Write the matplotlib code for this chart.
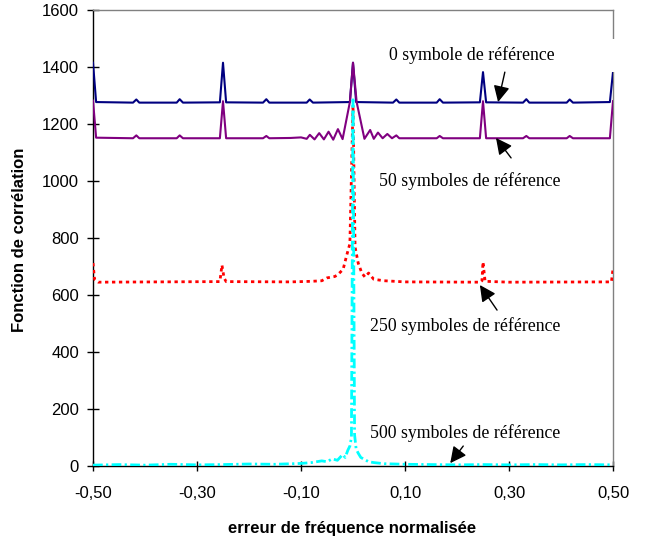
import matplotlib
matplotlib.use("Agg")
from matplotlib import pyplot as plt
from matplotlib.patches import Rectangle

# Valeurs (erreur de frequence normalisee / correlation)
x_0sym = [-0.5, -0.494, -0.423, -0.4167, -0.411, -0.339, -0.3333, -0.327, -0.256, -0.25, -0.244,
          -0.173, -0.1667, -0.161, -0.089, -0.0833, -0.077, -0.006, 0.0, 0.006, 0.077, 0.0833,
          0.089, 0.161, 0.1667, 0.173, 0.244, 0.25, 0.256, 0.327, 0.3333, 0.339, 0.411, 0.4167,
          0.423, 0.494, 0.5]
y_0sym = [1415, 1277, 1275, 1286, 1275, 1275, 1287, 1275, 1276, 1415, 1276,
          1275, 1287, 1275, 1275, 1286, 1275, 1277, 1415, 1277, 1275, 1286,
          1275, 1275, 1287, 1275, 1276, 1382, 1276, 1275, 1287, 1275, 1275, 1286,
          1275, 1277, 1382]

x_50sym = [-0.5, -0.494, -0.423, -0.4167, -0.411, -0.339, -0.3333, -0.327, -0.256, -0.25, -0.244,
           -0.173, -0.1667, -0.161, -0.12, -0.1, -0.089, -0.083, -0.074, -0.065, -0.056, -0.047,
           -0.038, -0.029, -0.02, -0.006, 0.0, 0.007, 0.022, 0.033, 0.04, 0.048, 0.057, 0.066,
           0.075, 0.0833, 0.089, 0.161, 0.1667, 0.173, 0.244, 0.25, 0.256, 0.327, 0.3333, 0.339,
           0.411, 0.4167, 0.423, 0.494, 0.5]
y_50sym = [1282, 1152, 1150, 1160, 1150, 1150, 1160, 1150, 1150, 1280, 1150,
           1150, 1158, 1150, 1151, 1153, 1148, 1162, 1146, 1168, 1146, 1173,
           1145, 1182, 1147, 1277, 1415, 1277, 1148, 1179, 1148, 1170, 1150, 1165,
           1150, 1160, 1150, 1150, 1158, 1150, 1150, 1280, 1150, 1150, 1158, 1150,
           1150, 1158, 1150, 1150, 1280]

x_250sym = [-0.5, -0.497, -0.49, -0.256, -0.252, -0.248, -0.244, -0.12, -0.08, -0.06, -0.05,
            -0.035, -0.03, -0.019, -0.012, -0.006, 0.0, 0.004, 0.01, 0.017, 0.023, 0.03, 0.04,
            0.06, 0.1, 0.244, 0.248, 0.25, 0.254, 0.3, 0.497, 0.5]
y_250sym = [712, 655, 645, 647, 705, 660, 647, 646, 648, 650, 660,
            665, 670, 690, 740, 780, 1265, 768, 712, 677, 663, 677, 655,
            650, 646, 645, 650, 716, 648, 645, 646, 692]

x_500sym = [-0.5, -0.45, -0.4, -0.35, -0.3, -0.25, -0.2, -0.15, -0.1, -0.08, -0.06, -0.05,
            -0.04, -0.03, -0.02, -0.015, -0.01, -0.006, -0.003, 0.0, 0.003, 0.006, 0.01, 0.015,
            0.02, 0.03, 0.04, 0.06, 0.1, 0.15, 0.2, 0.25, 0.3, 0.35, 0.4, 0.45, 0.5]
y_500sym = [3, 5, 3, 6, 4, 5, 7, 6, 9, 12, 18, 15,
            25, 20, 40, 30, 55, 70, 100, 1285, 110, 60, 45, 30,
            25, 15, 12, 8, 6, 5, 4, 5, 4, 5, 4, 5, 4]

xticks = [-0.5, -0.3, -0.1, 0.1, 0.3, 0.5]
xtick_labels = ["-0,50", "-0,30", "-0,10", "0,10", "0,30", "0,50"]
yticks = [0, 200, 400, 600, 800, 1000, 1200, 1400, 1600]

labels = ["0 symbole de référence", "50 symboles de référence",
          "250 symboles de référence", "500 symboles de référence"]


def main():
    fig = plt.figure(figsize=(6.48, 5.41), dpi=100)
    ax = fig.add_axes([93 / 648, 75 / 541, 520 / 648, 456 / 541])

    # Courbes
    ax.plot(x_0sym, y_0sym, color="#000080", lw=1.5, zorder=3)
    ax.plot(x_50sym, y_50sym, color="#800080", lw=1.5, zorder=3)
    ax.plot(x_250sym, y_250sym, color="#FF0000", lw=2, dashes=(1.2, 1.3), zorder=3)
    ax.plot(x_500sym, y_500sym, color="#00FFFF", lw=2, dashes=(3.5, 1.2, 0.8, 1.2), zorder=4)

    ax.set_xlim(-0.5, 0.5)
    ax.set_ylim(0, 1600)
    ax.set_xticks(xticks)
    ax.set_xticklabels(xtick_labels)
    ax.set_yticks(yticks)

    for lab in ax.get_xticklabels() + ax.get_yticklabels():
        lab.set_family("Liberation Sans")
        lab.set_fontsize(12)
    ax.tick_params(axis="x", direction="inout", length=7.5, width=1, pad=11)
    ax.tick_params(axis="y", direction="inout", length=8, width=1, pad=6)

    ax.spines["left"].set_color("black")
    ax.spines["bottom"].set_color("black")
    ax.spines["top"].set_color("#808080")
    ax.spines["right"].set_color("#808080")
    for s in ax.spines.values():
        s.set_linewidth(1)

    # Cadre blanc de l'etiquette du haut (coupe le bord droit)
    ax.add_patch(Rectangle((0.35, 1382), 0.2, 116, facecolor="white", edgecolor="none",
                           clip_on=False, zorder=5))

    # Etiquettes et fleches
    text_pos = [(0.229, 1442), (0.225, 1000), (0.215, 491), (0.215, 116)]
    arrow_tip = [(0.279, 1277), (0.275, 1151), (0.244, 635), (0.187, 10)]
    arrow_tail = [(0.292, 1382), (0.304, 1081), (0.277, 547), (0.212, 70)]
    for lab, (tx, ty) in zip(labels, text_pos):
        ax.text(tx, ty, lab, ha="center", va="center", fontsize=12.8,
                family="Liberation Serif", zorder=6)
    for tip, tail in zip(arrow_tip, arrow_tail):
        ax.annotate("", xy=tip, xytext=tail,
                    arrowprops=dict(arrowstyle="-|>,head_length=0.7,head_width=0.35",
                                    color="black", lw=1, shrinkA=0, shrinkB=0,
                                    mutation_scale=14),
                    zorder=6)

    fig.text(352 / 648, 1 - 528 / 541, "erreur de fréquence normalisée", ha="center",
             va="center", fontsize=12, fontweight="bold", family="Liberation Sans")
    fig.text(20 / 648, 1 - 240 / 541, "Fonction de corrélation", ha="center", va="center",
             rotation=90, fontsize=12, fontweight="bold", family="Liberation Sans")

    fig.savefig("out.png", dpi=100)


if __name__ == "__main__":
    main()
